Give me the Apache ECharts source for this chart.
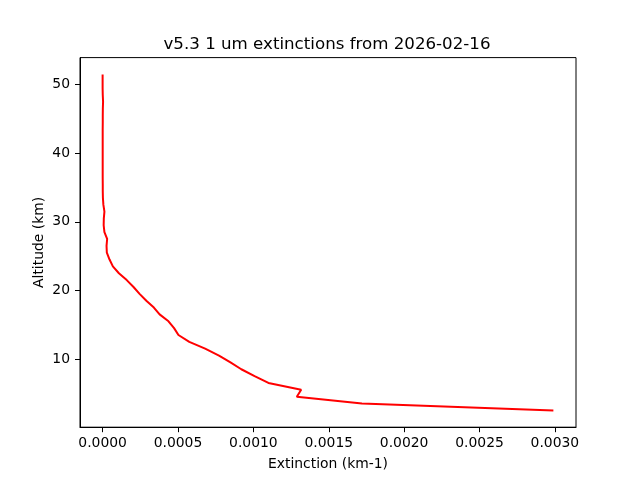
<!DOCTYPE html>
<html>
<head>
<meta charset="utf-8">
<script src="https://cdn.jsdelivr.net/npm/echarts@6/dist/echarts.min.js"></script>
<style>html,body{margin:0;padding:0;background:#fff;}#c{width:640px;height:480px;}</style>
</head>
<body>
<div id="c"></div>
<script>
const altitudes = [2.5, 3.5, 4.5, 5.5, 6.5, 7.5, 8.5, 9.5, 10.5, 11.5, 12.5, 13.5, 14.5, 15.5, 16.5, 17.5, 18.5, 19.5, 20.5, 21.5, 22.5, 23.5, 24.5, 25.5, 26.5, 27.5, 28.5, 29.5, 30.5, 31.5, 32.5, 33.5, 34.5, 35.5, 36.5, 37.5, 38.5, 39.5, 40.5, 41.5, 42.5, 43.5, 44.5, 45.5, 46.5, 47.5, 48.5, 49.5, 50.5, 51.5];
const extinctions = [0.002990, 0.001720, 0.001288, 0.001317, 0.001100, 0.001008, 0.000920, 0.000848, 0.000772, 0.000680, 0.000575, 0.000503, 0.000474, 0.000437, 0.000378, 0.000340, 0.000290, 0.000245, 0.000205, 0.000160, 0.000108, 0.000068, 0.000046, 0.000028, 0.000026, 0.000030, 0.000012, 0.000007, 0.000008, 0.000012, 0.000005, 0.000002, 0.000001, 0.000001, 0.0000005, 0.0000005, 0.0000005, 0.0000005, 0.0000005, 0.0000005, 0.0000005, 0.0000005, 0.000001, 0.000001, 0.0000015, 0.000003, 0.000001, 0.0, 0.0, 0.0];
const xTicks = [0, 0.0005, 0.001, 0.0015, 0.002, 0.0025, 0.003];
const yTicks = [10, 20, 30, 40, 50];
const titleText = 'v5.3 1 um extinctions from 2026-02-16';
const xName = 'Extinction (km-1)';
const yName = 'Altitude (km)';

const font = 'DejaVu Sans';
const chart = echarts.init(document.getElementById('c'), null, {renderer: 'canvas'});
chart.setOption({
  animation: false,
  backgroundColor: '#ffffff',
  textStyle: {fontFamily: font},
  title: {
    text: titleText,
    left: 322,
    top: 31,
    textAlign: 'center',
    textStyle: {fontFamily: font, fontSize: 16.67, fontWeight: 'normal', color: '#000'}
  },
  grid: {
    left: 80, right: 64, top: 57.6, bottom: 52.8,
    containLabel: false, outerBoundsMode: 'none',
    show: true, borderColor: '#000', borderWidth: 1, backgroundColor: 'transparent'
  },
  xAxis: {
    type: 'value',
    min: -0.00015, max: 0.00314,
    name: xName, nameLocation: 'middle', nameGap: 30, nameMoveOverlap: false,
    nameTextStyle: {fontFamily: font, fontSize: 13.9, color: '#000'},
    axisLine: {show: true, onZero: false, lineStyle: {color: '#000', width: 1}},
    axisTick: {show: true, length: 5, inside: false, customValues: xTicks, lineStyle: {color: '#000'}},
    axisLabel: {show: true, margin: 9, customValues: xTicks, fontFamily: font, fontSize: 13.9, color: '#000',
      formatter: v => v.toFixed(4)},
    splitLine: {show: false}
  },
  yAxis: {
    type: 'value',
    min: 0.05, max: 53.95,
    name: yName, nameLocation: 'middle', nameGap: 34, nameRotate: 90, nameMoveOverlap: false,
    nameTextStyle: {fontFamily: font, fontSize: 13.9, color: '#000'},
    axisLine: {show: true, onZero: false, lineStyle: {color: '#000', width: 1}},
    axisTick: {show: true, length: 5, inside: false, customValues: yTicks, lineStyle: {color: '#000'}},
    axisLabel: {show: true, margin: 10, customValues: yTicks, fontFamily: font, fontSize: 13.9, color: '#000',
      formatter: v => String(Math.round(v))},
    splitLine: {show: false}
  },
  series: [{
    type: 'line',
    data: extinctions.map((e, i) => [e, altitudes[i]]),
    showSymbol: false,
    symbol: 'none',
    lineStyle: {color: '#ff0000', width: 2},
    itemStyle: {color: '#ff0000'}
  }]
});
</script>
</body>
</html>
